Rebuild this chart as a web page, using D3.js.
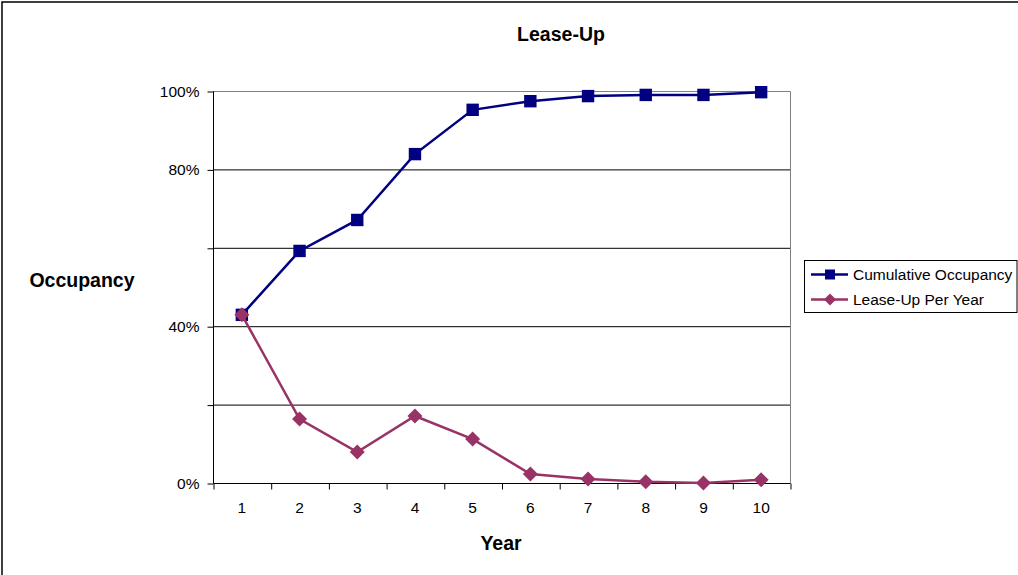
<!DOCTYPE html>
<html>
<head>
<meta charset="utf-8">
<script src="https://cdn.jsdelivr.net/npm/d3@7"></script>
<style>
  html, body { margin: 0; padding: 0; background: #fff; }
  svg { display: block; font-family: "Liberation Sans", Arial, sans-serif; }
</style>
</head>
<body>
<svg id="chart" width="1018" height="575"></svg>
<script>
// Lease-up schedule: years, cumulative occupancy and yearly absorption
const years = [1, 2, 3, 4, 5, 6, 7, 8, 9, 10];
const cumulativeOccupancy = [0.429, 0.592, 0.671, 0.839, 0.952, 0.974, 0.987, 0.990, 0.990, 0.997];
const leaseUpPerYear = [0.429, 0.163, 0.079, 0.171, 0.112, 0.023, 0.010, 0.003, 0.000, 0.008];
const yTicks = [0, 0.2, 0.4, 0.6, 0.8, 1.0];
const yTickLabels = ["0%", "", "40%", "", "80%", "100%"];
const seriesNames = ["Cumulative Occupancy", "Lease-Up Per Year"];
const seriesColors = ["#000080", "#993366"];

const svg = d3.select("#chart");

// outer chart frame
svg.append("rect")
  .attr("x", 2).attr("y", 2).attr("width", 1100).attr("height", 700)
  .attr("fill", "#fff").attr("stroke", "#000").attr("stroke-width", 1.5);

const plot = { left: 213, right: 790, top: 91, bottom: 483 };

const x = d3.scaleLinear().domain([0.5, 10.5]).range([plot.left, plot.right]);
const y = d3.scaleLinear().domain([0, 1]).range([plot.bottom, plot.top]);

// horizontal gridlines
svg.append("g")
  .selectAll("line")
  .data(yTicks.filter(d => d > 0 && d < 1))
  .join("line")
  .attr("x1", plot.left).attr("x2", plot.right)
  .attr("y1", d => y(d) + 0.5).attr("y2", d => y(d) + 0.5)
  .attr("stroke", "#000").attr("stroke-width", 1);

// plot area border (top and right)
svg.append("path")
  .attr("d", `M${plot.left},${plot.top + 0.5}H${plot.right + 0.5}V${plot.bottom}`)
  .attr("fill", "none").attr("stroke", "#808080").attr("stroke-width", 1);

// y axis
const yAxis = svg.append("g")
  .attr("transform", `translate(${plot.left + 0.5},0.5)`)
  .call(d3.axisLeft(y).tickValues(yTicks).tickFormat((d, i) => yTickLabels[i]).tickSize(6).tickPadding(8));
yAxis.select(".domain").attr("stroke", "#000").attr("d", `M0,${plot.top}V${plot.bottom}`);
yAxis.selectAll(".tick line").attr("stroke", "#000");
yAxis.selectAll(".tick text").attr("font-size", 15.5).attr("fill", "#000")
  .attr("font-family", "Liberation Sans, Arial, sans-serif");

// x axis: ticks between categories, labels centred in each category
const bounds = d3.range(0.5, 11, 1);
const xAxis = svg.append("g")
  .attr("transform", `translate(0.5,${plot.bottom + 0.5})`)
  .call(d3.axisBottom(x).tickValues(bounds).tickFormat("").tickSize(6));
xAxis.select(".domain").attr("stroke", "#000").attr("d", `M${plot.left},0H${plot.right}`);
xAxis.selectAll(".tick line").attr("stroke", "#000");

svg.append("g")
  .selectAll("text")
  .data(years)
  .join("text")
  .attr("x", d => x(d))
  .attr("y", plot.bottom + 30)
  .attr("text-anchor", "middle")
  .attr("font-size", 15.5)
  .text(d => d);

// marker shapes: square and a 45°-rotated square
const squarePath = s => `M${-s},${-s}H${s}V${s}H${-s}Z`;
const diamondPath = r => `M0,${-r}L${r},0L0,${r}L${-r},0Z`;

const line = d3.line().x((d, i) => x(years[i])).y(d => y(d));

function drawSeries(values, color, shape) {
  svg.append("path")
    .datum(values)
    .attr("d", line)
    .attr("fill", "none")
    .attr("stroke", color)
    .attr("stroke-width", 2.5);
  svg.append("g")
    .selectAll("path")
    .data(values)
    .join("path")
    .attr("transform", (d, i) => `translate(${x(years[i])},${y(d)})`)
    .attr("d", shape)
    .attr("fill", color);
}
drawSeries(cumulativeOccupancy, seriesColors[0], squarePath(6.2));
drawSeries(leaseUpPerYear, seriesColors[1], diamondPath(7.5));

// titles
svg.append("text")
  .attr("x", 561).attr("y", 41)
  .attr("text-anchor", "middle")
  .attr("font-size", 19.5).attr("font-weight", "bold")
  .text("Lease-Up");

svg.append("text")
  .attr("x", 82).attr("y", 287)
  .attr("text-anchor", "middle")
  .attr("font-size", 19.5).attr("font-weight", "bold")
  .text("Occupancy");

svg.append("text")
  .attr("x", 501).attr("y", 550)
  .attr("text-anchor", "middle")
  .attr("font-size", 19.5).attr("font-weight", "bold")
  .text("Year");

// legend
const legend = svg.append("g");
legend.append("rect")
  .attr("x", 804.5).attr("y", 260.5).attr("width", 212.5).attr("height", 52)
  .attr("fill", "#fff").attr("stroke", "#000").attr("stroke-width", 1);

const legendShapes = [squarePath(5), diamondPath(6)];
seriesNames.forEach((name, i) => {
  const cy = 274.5 + i * 25;
  legend.append("line")
    .attr("x1", 811).attr("x2", 848).attr("y1", cy).attr("y2", cy)
    .attr("stroke", seriesColors[i]).attr("stroke-width", 2.5);
  legend.append("path")
    .attr("transform", `translate(830,${cy})`)
    .attr("d", legendShapes[i])
    .attr("fill", seriesColors[i]);
  legend.append("text")
    .attr("x", 853).attr("y", cy + 5.5)
    .attr("font-size", 15.5)
    .text(name);
});
</script>
</body>
</html>
